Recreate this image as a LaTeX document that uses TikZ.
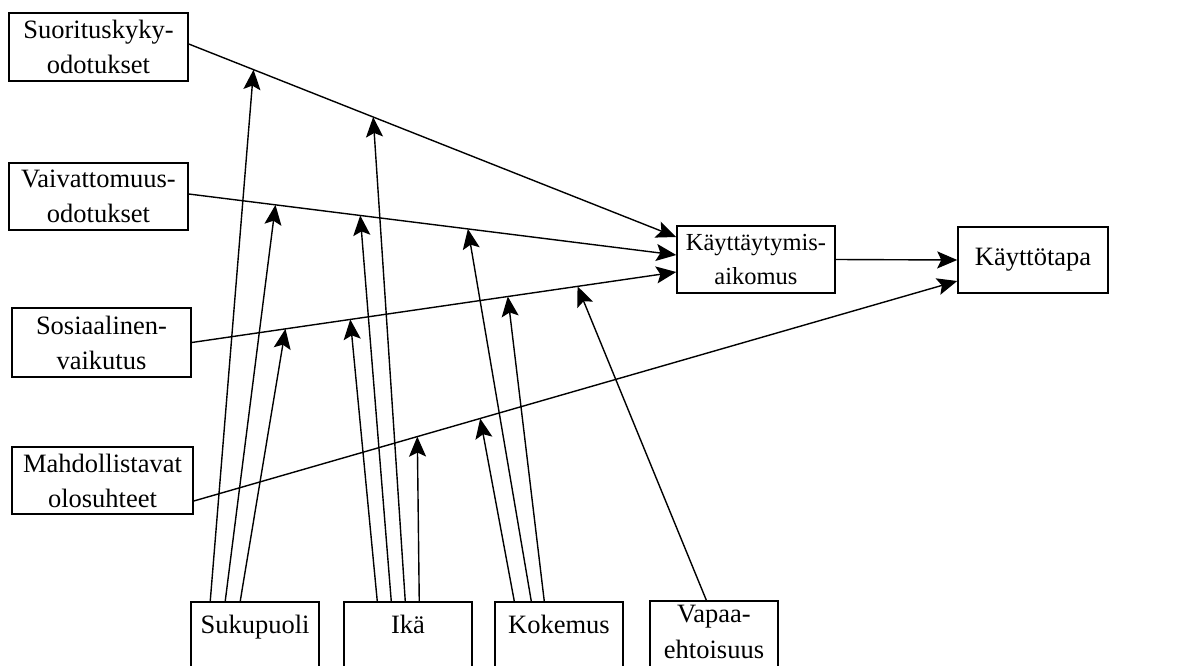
\documentclass[tikz,border=0pt]{standalone}
\usepackage{fontspec}
\setmainfont{Liberation Serif}
\usetikzlibrary{arrows.meta,calc}
\begin{document}
\begin{tikzpicture}[x=1pt,y=-1pt,
  txt/.style={font=\fontsize{26.5}{35}\selectfont},
  box/.style={txt,draw,line width=1.5pt,inner sep=0pt,align=center},
  bbox/.style={txt,draw,line width=1.5pt,inner sep=0pt,anchor=north,
    minimum width=128pt,text height=32pt,text depth=40pt},
  arr/.style={line width=1.4pt,-{Stealth[length=20pt,width=17pt,inset=4pt]}}]
\useasboundingbox (0,0) rectangle (1188,666);
\clip (0,0) rectangle (1188,666);

% left column
\node[box,minimum width=179pt,minimum height=68pt] (suor) at (98.5,47) {Suorituskyky-\\odotukset};
\node[box,minimum width=179pt,minimum height=67pt] (vaiv) at (98.5,196.5) {Vaivattomuus-\\odotukset};
\node[box,minimum width=179pt,minimum height=69pt] (sos) at (101.5,342.5) {Sosiaalinen-\\vaikutus};
\node[box,minimum width=181pt,minimum height=67pt] (mahd) at (102.5,480.5) {Mahdollistavat\\olosuhteet};

% right
\node[box,minimum width=158pt,minimum height=67pt,font=\fontsize{24.5}{34}\selectfont] (kayt) at (756,259.5) {Käyttäytymis-\\aikomus};
\node[box,minimum width=150pt,minimum height=66pt] (tapa) at (1033,260) {Käyttötapa};

% bottom row
\node[bbox] (suk) at (255,601) {Sukupuoli};
\node[bbox] (ika) at (408,601) {Ikä};
\node[bbox] (kok) at (559,601) {Kokemus};
\node[bbox,text height=22pt,text depth=50pt] (vap) at (714,600)
  {\begin{tabular}[t]{@{}c@{}}Vapaa-\\[1pt]ehtoisuus\end{tabular}};

% main line end points
\coordinate (a1) at ($(suor.east)+(0,-3)$);
\coordinate (b1) at ($(kayt.west)+(0,-22.5)$);
\coordinate (a2) at ($(vaiv.east)+(0,-2.5)$);
\coordinate (b2) at ($(kayt.west)+(0,-4.5)$);
\coordinate (a3) at (sos.east);
\coordinate (b3) at ($(kayt.west)+(0,12.5)$);
\coordinate (a4) at ($(mahd.east)+(0,20.5)$);
\coordinate (b4) at ($(tapa.west)+(0,21)$);

\draw[arr] (a1) -- (b1);
\draw[arr] (a2) -- (b2);
\draw[arr] (a3) -- (b3);
\draw[arr] (a4) -- (b4);
\draw[arr] (kayt.east) -- (tapa.west);

% moderator targets on the main lines
\coordinate (s1) at ($(a1)!0.1329!(b1)$);
\coordinate (s2) at ($(a2)!0.1779!(b2)$);
\coordinate (s3) at ($(a3)!0.1934!(b3)$);
\coordinate (i1) at ($(a3)!0.3272!(b3)$);
\coordinate (i2) at ($(a2)!0.3517!(b2)$);
\coordinate (i3) at ($(a1)!0.3783!(b1)$);
\coordinate (i4) at ($(a4)!0.2928!(b4)$);
\coordinate (k1) at ($(a4)!0.3752!(b4)$);
\coordinate (k2) at ($(a2)!0.5726!(b2)$);
\coordinate (k3) at ($(a3)!0.6523!(b3)$);
\coordinate (v1) at ($(a3)!0.7963!(b3)$);

% Sukupuoli
\draw[arr] ($(suk.north west)+(20,0)$) -- (s1);
\draw[arr] ($(suk.north west)+(35,0)$) -- (s2);
\draw[arr] ($(suk.north west)+(50,0)$) -- (s3);
% Ikä
\draw[arr] ($(ika.north west)+(34,0)$) -- (i1);
\draw[arr] ($(ika.north west)+(48,0)$) -- (i2);
\draw[arr] ($(ika.north west)+(62,0)$) -- (i3);
\draw[arr] ($(ika.north west)+(76,0)$) -- (i4);
% Kokemus
\draw[arr] ($(kok.north west)+(20,0)$) -- (k1);
\draw[arr] ($(kok.north west)+(37,0)$) -- (k2);
\draw[arr] ($(kok.north west)+(50,0)$) -- (k3);
% Vapaaehtoisuus
\draw[arr] ($(vap.north west)+(57,0)$) -- (v1);
\end{tikzpicture}
\end{document}
